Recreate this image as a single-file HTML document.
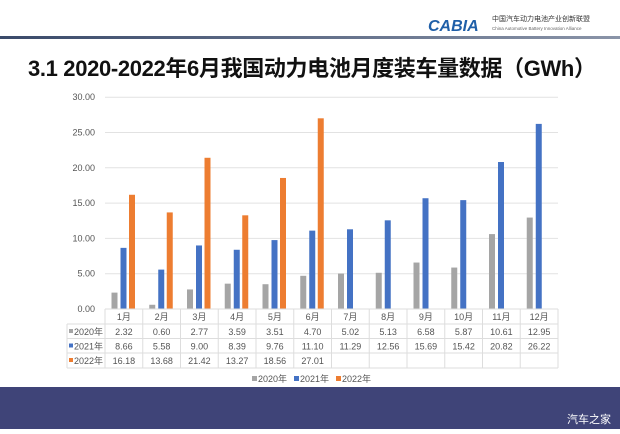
<!DOCTYPE html>
<html><head><meta charset="utf-8"><style>
body{margin:0;width:620px;height:429px;overflow:hidden;background:#fff;font-family:"Liberation Sans","Noto Sans CJK SC",sans-serif;}
#wrap{position:relative;width:620px;height:429px;}
</style></head><body><div id="wrap">
<svg id="chart" width="620" height="429" xmlns="http://www.w3.org/2000/svg">
<defs><linearGradient id="hl" x1="0" x2="1"><stop offset="0" stop-color="#3a4a6a"/><stop offset="1" stop-color="#8a94a8"/></linearGradient></defs>
<rect x="0" y="36" width="620" height="3" fill="url(#hl)"/>
<text x="428" y="31" font-size="16" font-style="italic" font-weight="bold" fill="#1f5fa8">CABIA</text>
<text x="492" y="21" font-size="7" fill="#333">中国汽车动力电池产业创新联盟</text>
<text x="492" y="30" font-size="4.5" fill="#666">China Automotive Battery Innovation Alliance</text>
<text x="28" y="76" font-size="22" font-weight="bold" fill="#111" textLength="568" lengthAdjust="spacing">3.1 2020-2022年6月我国动力电池月度装车量数据（GWh）</text>
<g id="grid"></g><g id="bars"></g><g id="table"></g>
<g>
<rect x="252" y="376" width="5" height="5" fill="#a5a5a5"/><text x="258" y="382" font-size="9" fill="#555">2020年</text>
<rect x="294" y="376" width="5" height="5" fill="#4472c4"/><text x="300" y="382" font-size="9" fill="#555">2021年</text>
<rect x="336" y="376" width="5" height="5" fill="#ed7d31"/><text x="342" y="382" font-size="9" fill="#555">2022年</text>
</g>
<rect x="0" y="387" width="620" height="42" fill="#3f4478"/>
<text x="567" y="423" font-size="11" fill="#fff">汽车之家</text>
</svg>
<script>
const months=["1月","2月","3月","4月","5月","6月","7月","8月","9月","10月","11月","12月"];
const s2020=[2.32,0.60,2.77,3.59,3.51,4.70,5.02,5.13,6.58,5.87,10.61,12.95];
const s2021=[8.66,5.58,9.00,8.39,9.76,11.10,11.29,12.56,15.69,15.42,20.82,26.22];
const s2022=[16.18,13.68,21.42,13.27,18.56,27.01,null,null,null,null,null,null];
const yTicks=[0,5,10,15,20,25,30];
const seriesNames=["2020年","2021年","2022年"];
const NS="http://www.w3.org/2000/svg";
const x0=105,cw=37.75,y0=309,ppu=7.06;
const y=v=>y0-v*ppu, xc=i=>x0+i*cw;
function mk(t,a,p,txt){const e=document.createElementNS(NS,t);for(const k in a)e.setAttribute(k,a[k]);if(txt!=null)e.textContent=txt;p.appendChild(e);return e;}
const g=document.getElementById('grid'),b=document.getElementById('bars'),tb=document.getElementById('table');
yTicks.forEach(v=>{
 const l=mk('line',{x1:x0,x2:558,y1:y(v),y2:y(v),stroke:'#e2e2e2','stroke-width':1},g);
 
 const t=mk('text',{x:95,y:y(v)+3,'font-size':9,fill:'#555','text-anchor':'end'},g,v.toFixed(2));
 
});
const series=[s2020,s2021,s2022],cols=['#a5a5a5','#4472c4','#ed7d31'],offs=[6.5,15.5,24];
series.forEach((s,k)=>s.forEach((v,i)=>{if(v==null)return;
 const r=mk('rect',{x:xc(i)+offs[k],y:y(v),width:6,height:v*ppu,fill:cols[k]},b);
 
}));
const rows=[309,324,338.5,353,368];
rows.forEach((ry,j)=>{const l=mk('line',{x1:j==0?x0:67,x2:558,y1:ry,y2:ry,stroke:'#ddd'},tb);});
for(let i=0;i<=12;i++){const l=mk('line',{x1:xc(i),x2:xc(i),y1:309,y2:368,stroke:'#ddd'},tb);}
{const l=mk('line',{x1:67,x2:67,y1:324,y2:368,stroke:'#ddd'},tb);}
months.forEach((m,i)=>{const t=mk('text',{x:xc(i)+cw/2,y:320,'font-size':9,fill:'#555','text-anchor':'middle'},tb,m);});
series.forEach((s,k)=>{
 const ry=rows[k+1]+11;
 const sw=mk('rect',{x:69,y:ry-6,width:4,height:4,fill:cols[k]},tb);
 const lt=mk('text',{x:74,y:ry,'font-size':9,fill:'#555'},tb,seriesNames[k]);
 s.forEach((v,i)=>{if(v==null)return;const t=mk('text',{x:xc(i)+cw/2,y:ry,'font-size':9,fill:'#555','text-anchor':'middle'},tb,v.toFixed(2));});
});
</script></div></body></html>
